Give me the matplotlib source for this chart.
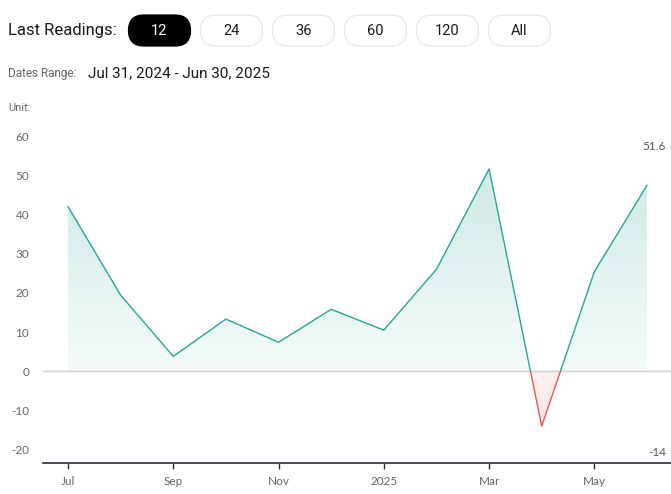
import numpy as np
import matplotlib
matplotlib.use("Agg")
import matplotlib.pyplot as plt
from matplotlib.patches import FancyBboxPatch, Rectangle
from matplotlib.colors import LinearSegmentedColormap

# monthly readings, Jul 2024 - Jun 2025
months = ["Jul", "Aug", "Sep", "Oct", "Nov", "Dec", "Jan", "Feb", "Mar", "Apr", "May", "Jun"]
values = [42.0, 19.4, 3.8, 13.3, 7.4, 15.8, 10.5, 26.0, 51.6, -14.0, 25.4, 47.4]
tick_pos = [0, 2, 4, 6, 8, 10]
tick_labels = ["Jul", "Sep", "Nov", "2025", "Mar", "May"]
y_ticks = [-20, -10, 0, 10, 20, 30, 40, 50, 60]
buttons = ["12", "24", "36", "60", "120", "All"]

W, H = 671, 494
fig = plt.figure(figsize=(W / 100, H / 100), dpi=100)
fig.patch.set_facecolor("white")

def fx(px):
    return px / W

def fy(py):
    return 1 - py / H

teal = "#26a69a"
red = "#ef5350"

# chart area
ax = fig.add_axes([fx(43), fy(463), fx(671) - fx(43), fy(116.4) - fy(463)])
x = np.arange(len(values))
vals = np.array(values)
ymin, ymax = -23.4, 65
ax.set_xlim(-0.475, 11.456)
ax.set_ylim(ymin, ymax)

# gradient fills clipped to the area between the line and zero
poly = ax.fill_between(x, vals, 0, facecolor="none", edgecolor="none")
clip = poly.get_paths()[0]

grad = np.linspace(0, 1, 256).reshape(-1, 1)
cm_pos = LinearSegmentedColormap.from_list("pos", ["#f4fbfa", "#cfeae6"])
im = ax.imshow(grad, extent=[x[0], x[-1], 0, vals.max()], origin="lower",
               aspect="auto", cmap=cm_pos, zorder=1)
im.set_clip_path(clip, transform=ax.transData)

cm_neg = LinearSegmentedColormap.from_list("neg", ["#fbe3e3", "#fff3f3"])
im2 = ax.imshow(grad, extent=[x[0], x[-1], vals.min(), 0], origin="lower",
                aspect="auto", cmap=cm_neg, zorder=1)
im2.set_clip_path(clip, transform=ax.transData)

# line: teal above zero, red below
l1, = ax.plot(x, vals, color=teal, lw=1.0, zorder=3)
l1.set_clip_path(Rectangle((-1, 0), 14, 100, transform=ax.transData))
l2, = ax.plot(x, vals, color=red, lw=1.0, zorder=3)
l2.set_clip_path(Rectangle((-1, -100), 14, 100, transform=ax.transData))

ax.axhline(0, color="#d0d0d0", lw=1.0, zorder=2)

for s in ["top", "right", "left"]:
    ax.spines[s].set_visible(False)
ax.spines["bottom"].set_color("#2b2f3a")
ax.spines["bottom"].set_linewidth(1.2)

ax.set_yticks(y_ticks)
ax.set_yticklabels([str(t) for t in y_ticks])
ax.set_xticks(tick_pos)
ax.set_xticklabels(tick_labels)
ax.tick_params(axis="y", length=0, pad=10, labelsize=8.5, labelcolor="#666666")
ax.tick_params(axis="x", length=4, width=1, color="#2b2f3a", pad=5,
               labelsize=8.5, labelcolor="#666666")
for lab in ax.get_xticklabels() + ax.get_yticklabels():
    lab.set_fontfamily("Lato")

# max / min markers on the right
fig.text(fx(666), fy(146), f"{vals.max():g}", ha="right", va="center",
         fontsize=8.5, color="#555555", family="Lato")
fig.text(fx(666), fy(452), f"{vals.min():g}", ha="right", va="center",
         fontsize=8.5, color="#555555", family="Lato")

# header drawn in a pixel-space overlay
hx = fig.add_axes([0, 0, 1, 1], zorder=-1)
hx.set_xlim(0, W)
hx.set_ylim(H, 0)
hx.axis("off")

hx.text(8, 31, "Last Readings:", ha="left", va="center",
        fontsize=12, color="#1a1a1a", family="Roboto")
for i, b in enumerate(buttons):
    cx = 159.5 + i * 72
    bw, bh = 62, 31
    active = i == 0
    box = FancyBboxPatch((cx - bw / 2, 15), bw, bh,
                         boxstyle="round,pad=0,rounding_size=15.5",
                         facecolor="black" if active else "white",
                         edgecolor="black" if active else "#e8e8e8",
                         lw=0.9)
    hx.add_patch(box)
    hx.text(cx, 31, b, ha="center", va="center", fontsize=10.5,
            color="white" if active else "#1a1a1a", family="Roboto")

hx.text(8, 74, "Dates Range:", ha="left", va="center",
        fontsize=8.5, color="#666666", family="Roboto")
hx.text(88, 73, "Jul 31, 2024 - Jun 30, 2025", ha="left", va="center",
        fontsize=11, color="#1a1a1a", family="Roboto")
hx.text(8, 108, "Unit:", ha="left", va="center",
        fontsize=8, color="#666666", family="Roboto")

fig.savefig("out.png", dpi=100, facecolor="white")
